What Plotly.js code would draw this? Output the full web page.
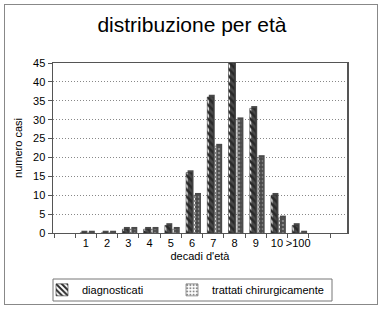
<!DOCTYPE html>
<html>
<head>
<meta charset="utf-8">
<script src="https://cdn.plot.ly/plotly-3.0.1.min.js"></script>
<style>
  html, body { margin: 0; padding: 0; background: #fff; }
  #frame { position: absolute; left: 4px; top: 4px; width: 374px; height: 301px; border: 1px solid #888; box-sizing: border-box; pointer-events: none; }
  #chart { width: 384px; height: 310px; }
</style>
</head>
<body>
<div id="chart"></div>
<div id="frame"></div>
<script>
const categories = ['1', '2', '3', '4', '5', '6', '7', '8', '9', '10', '>100'];
const diagnosticati = [0, 0, 1, 1, 2, 16, 36, 45, 33, 10, 2];
const trattati = [0, 0, 1, 1, 1, 10, 23, 30, 20, 4, 0];
const yTicks = [0, 5, 10, 15, 20, 25, 30, 35, 40, 45];

const xPos = categories.map((c, i) => i + 1);
const W = 0.28, DX = 0.07, DY = 0.6;
const shadow = v => v.map(y => y + DY);

const traces = [
  { type: 'bar', x: xPos, y: shadow(diagnosticati), width: W, offset: -W + DX,
    marker: { color: '#4a4a4a', line: { width: 0 } }, showlegend: false, hoverinfo: 'skip' },
  { type: 'bar', name: 'diagnosticati', x: xPos, y: diagnosticati, width: W, offset: -W,
    legend: 'legend',
    marker: { color: '#b8b8b8', line: { color: '#333', width: 0.6 },
      pattern: { shape: '\\', fgcolor: '#2a2a2a', size: 5, solidity: 0.5 } } },
  { type: 'bar', x: xPos, y: shadow(trattati), width: W, offset: DX + DX,
    marker: { color: '#4a4a4a', line: { width: 0 } }, showlegend: false, hoverinfo: 'skip' },
  { type: 'bar', name: 'trattati chirurgicamente', x: xPos, y: trattati, width: W, offset: DX,
    legend: 'legend2',
    marker: { color: '#ffffff', line: { color: '#555', width: 0.6 },
      pattern: { shape: '.', fgcolor: '#8a8a8a', size: 4, solidity: 0.35 } } }
];

const legendBase = { orientation: 'h', xref: 'container', yref: 'container', xanchor: 'left',
  y: 0.065, yanchor: 'middle', borderwidth: 0, bgcolor: 'rgba(0,0,0,0)',
  font: { size: 11 }, itemwidth: 30 };

const layout = {
  width: 384, height: 310,
  margin: { l: 53, r: 37, t: 63, b: 77 },
  paper_bgcolor: '#ffffff', plot_bgcolor: '#ffffff',
  font: { family: 'Liberation Sans, Arial, sans-serif', size: 11, color: '#000' },
  title: { text: 'distribuzione per età', x: 0.5, xanchor: 'center', y: 0.92, yanchor: 'middle',
    font: { size: 21, color: '#000' } },
  barmode: 'overlay',
  showlegend: true,
  legend: Object.assign({}, legendBase, { x: 42 / 384 }),
  legend2: Object.assign({}, legendBase, { x: 172 / 384 }),
  shapes: [
    { type: 'rect', xref: 'paper', yref: 'paper', x0: 0, x1: (332 - 53) / 294,
      y0: (233 - 279) / 170, y1: (233 - 301) / 170, line: { color: '#777', width: 1 } }
  ],
  xaxis: {
    range: [-0.55, 13.3], tickvals: xPos, ticktext: categories, ticks: '',
    showgrid: false, zeroline: false, showline: true, linecolor: '#555', linewidth: 1, mirror: true,
    minor: { tick0: 0.5, dtick: 1, ticks: 'outside', ticklen: 4, tickcolor: '#555', showgrid: false },
    title: { text: "decadi d'età", font: { size: 11 }, standoff: 4 },
    tickfont: { size: 11 }
  },
  yaxis: {
    range: [0, 45], tickvals: yTicks, ticks: 'outside', ticklen: 4, tickcolor: '#555',
    showgrid: true, gridcolor: '#888', griddash: '1px,2px', gridwidth: 1,
    zeroline: false, showline: true, linecolor: '#555', linewidth: 1.5, mirror: true,
    title: { text: 'numero casi', font: { size: 11 }, standoff: 8 },
    tickfont: { size: 11 }
  }
};

Plotly.newPlot('chart', traces, layout, { displayModeBar: false, staticPlot: true });
</script>
</body>
</html>
